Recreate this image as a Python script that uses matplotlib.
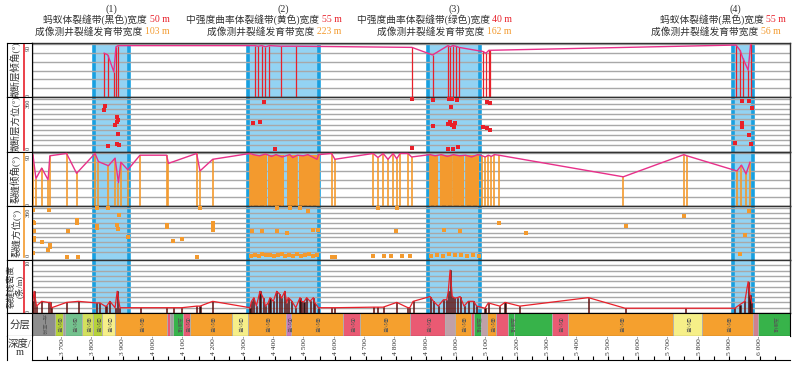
import matplotlib.pyplot as plt

plt.rcParams['font.family'] = ['Liberation Serif', 'Noto Sans CJK SC']

# ---- data (depth in m) ----
zone_top = [3805, 4312, 4906, 5912]
zone_bottom = [3920, 4547, 5078, 5978]
zone_no = ['(1)', '(2)', '(3)', '(4)']
zone_text = ['蚂蚁体裂缝带(黑色)宽度', '中强度曲率体裂缝带(黄色)宽度',
             '中强度曲率体裂缝带(绿色)宽度', '蚂蚁体裂缝带(黑色)宽度']
zone_width_ant = ['50 m', '55 m', '40 m', '55 m']
zone_width_img = ['103 m', '223 m', '162 m', '56 m']

# microfault dip
fault_depth = [3838, 3850, 3870, 3877, 3884, 4335, 4345, 4358, 4370, 4383, 4420, 4470,
               4853, 4921, 4972, 4980, 4988, 4998, 5008, 5087, 5097, 5107,
               5110, 5922, 5935, 5944, 5962, 5970]
fault_dip = [75, 72, 43, 86, 88, 88, 87, 88, 86, 88, 87, 87,
             85, 72, 88, 86, 88, 87, 85, 78, 75, 80,
             80, 89, 80, 67, 46, 90]

# microfault azimuth
fault_az_depth = [3842, 3838, 3880, 3882, 3880, 3874, 3885, 3852, 3881, 3888,
                  4330, 4352, 4365, 4400, 4853, 4921, 4975, 4985, 4982, 5002, 4921,
                  4972, 4978, 4985, 4992, 4995, 5101, 5110, 5087, 5101, 5110,
                  4853, 4972, 4988, 5005, 5941, 5965, 5974, 5941, 5941, 5966, 5918, 5970]
fault_az = [311, 282, 233, 212, 198, 176, 113, 30, 40, 35,
            190, 195, 340, 10, 358, 353, 360, 360, 306, 353, 169,
            184, 198, 176, 162, 190, 341, 332, 162, 155, 141,
            12, 7, 7, 19, 348, 346, 294, 191, 162, 106, 47, 42]

# fracture dip (single traces) and dense fracture intervals
frac_depth = [3600, 3603, 3613, 3632, 3653, 3659, 3714, 3747, 3808, 3819, 3852, 3874,
              3885, 3893, 3916, 3956, 4044, 4050, 4143, 4154, 4196, 4319, 4330, 4350,
              4370, 4390, 4405, 4425, 4450, 4460, 4475, 4495, 4510, 4525, 4540, 4545,
              4588, 4599, 4725, 4741, 4758, 4774, 4791, 4803, 4814, 4840, 4852, 4913,
              4930, 4950, 4970, 4990, 5010, 5030, 5050, 5070, 5085, 5095, 5105, 5115,
              5125, 5140, 5550, 5750, 5760, 5925, 5940, 5955, 5968]
frac_dip = [90, 88, 47, 65, 45, 86, 90, 56, 90, 76, 69, 82,
            40, 75, 62, 87, 87, 73, 90, 60, 80, 90, 88, 86,
            89, 85, 88, 84, 88, 83, 87, 86, 88, 84, 80, 88,
            90, 80, 90, 83, 90, 80, 90, 81, 90, 90, 84, 88,
            86, 88, 85, 88, 86, 87, 84, 88, 86, 84, 87, 85,
            88, 87, 50, 88, 86, 60, 70, 55, 75]
dense_start = [4319, 4380, 4440, 4482, 4913, 4945, 4990, 5030]
dense_end = [4375, 4432, 4475, 4545, 4940, 4985, 5025, 5075]
dense_dip = [88, 88, 88, 88, 87, 87, 87, 87]

# fracture azimuth
frac_az_depth = [3604, 3657, 3604, 3607, 3747, 3747, 3720, 3607, 3607, 3607, 3632, 3659,
                 3659, 3654, 3604, 3714, 3753, 3813, 3852, 3888, 3813, 3813, 3879, 3885,
                 3915, 4044, 4044, 4154, 4066, 4094, 4196, 4196, 4196, 4143,
                 4325, 4357, 4407, 4440, 4527, 4543, 4408, 4451, 4484, 4511,
                 4322, 4335, 4348, 4360, 4372, 4385, 4398, 4410, 4423, 4436, 4449, 4462,
                 4475, 4488, 4500, 4513, 4526, 4539,
                 4588, 4599, 4742, 4803, 4800, 4725, 4760, 4785, 4820, 4846,
                 4915, 4935, 4955, 4975, 4995, 5015, 5035, 5055, 5075, 4960, 5010, 5140, 5230,
                 5560, 5750, 5935, 5950, 5965]
frac_az = [345, 345, 259, 250, 272, 250, 193, 193, 137, 125, 112, 88,
           76, 51, 27, 3, 3, 358, 360, 309, 228, 211, 235, 204,
           149, 235, 223, 358, 120, 132, 248, 228, 198, 3,
           193, 193, 193, 179, 198, 198, 360, 360, 360, 340,
           10, 15, 8, 20, 12, 18, 6, 14, 22, 9, 16, 11,
           19, 7, 13, 21, 10, 15,
           3, 3, 360, 358, 193, 6, 4, 8, 5, 7,
           10, 15, 8, 20, 12, 18, 6, 14, 9, 200, 190, 250, 180,
           230, 300, 20, 160, 340]

# fracture linear density (per m)
dens_depth = [3601, 3603, 3607, 3615, 3632, 3653, 3660, 3665, 3714, 3753, 3813, 3824,
              3841, 3846, 3857, 3874, 3881, 3890, 3959, 4044, 4066, 4094, 4143, 4154,
              4196, 4319, 4324, 4332, 4340, 4352, 4363, 4370, 4379, 4385, 4396, 4407,
              4416, 4423, 4434, 4440, 4445, 4456, 4470, 4484, 4489, 4497, 4506, 4517,
              4528, 4533, 4545, 4588, 4599, 4725, 4740, 4758, 4803, 4840, 4846, 4857,
              4913, 4924, 4940, 4957, 4968, 4973, 4979, 4986, 4995, 5003, 5012, 5025,
              5039, 5056, 5067, 5094, 5105, 5143, 5160, 5209, 5435, 5556, 5754, 5918,
              5935, 5951, 5962, 5968, 5974]
dens = [2.2, 2.2, 4.1, 1.3, 2.2, 2.0, 2.0, 1.0, 2.0, 2.2, 1.9, 1.9,
        1.3, 1.3, 2.2, 1.0, 4.1, 1.0, 1.0, 1.0, 1.0, 1.0, 1.3, 1.3,
        2.2, 1.0, 2.2, 2.9, 1.3, 4.1, 2.8, 1.3, 1.9, 2.9, 2.2, 4.1,
        3.6, 2.8, 4.1, 1.9, 2.9, 2.3, 1.0, 2.9, 2.2, 2.1, 2.9, 2.2,
        2.9, 1.9, 1.0, 1.0, 1.0, 1.1, 1.1, 1.1, 2.0, 1.0, 1.0, 2.2,
        3.1, 2.2, 1.3, 2.5, 2.5, 4.1, 8.1, 3.1, 2.8, 2.9, 3.1, 1.3,
        2.2, 2.2, 1.3, 0.9, 1.9, 1.3, 2.0, 1.3, 2.9, 0.9, 0.9, 0.9,
        1.6, 2.2, 5.9, 3.4, 1.9]

# layering
layer_start = [3600, 3676, 3702, 3709, 3765, 3801, 3831, 3874, 4045, 4055, 4065, 4097,
               4122, 4260, 4312, 4437, 4453, 4627, 4682, 4847, 4962, 4995, 5048, 5058,
               5081, 5100, 5130, 5171, 5190, 5315, 5368, 5713, 5809, 5978, 5995]
layer_end = [3676, 3702, 3709, 3765, 3801, 3831, 3874, 4045, 4055, 4065, 4097, 4122,
             4260, 4312, 4437, 4453, 4627, 4682, 4847, 4962, 4995, 5048, 5058, 5081,
             5100, 5130, 5171, 5190, 5315, 5368, 5713, 5809, 5978, 5995, 6100]
layer_color = ['#8e8e8e', '#b6d23a', '#a0a0a0', '#74c28e', '#d3e05c', '#b6d23a', '#f6ef88',
               '#f5a02e', '#ea5a73', '#a0a0a0', '#37b34a', '#ea5a73', '#f5a02e', '#f6ef88',
               '#f5a02e', '#c67ab8', '#f5a02e', '#ea5a73', '#f5a02e', '#ea5a73', '#c0a0a8',
               '#f5a02e', '#ea5a73', '#37b34a', '#c0a0a8', '#f5a02e', '#ea5a73', '#37b34a',
               '#37b34a', '#ea5a73', '#f5a02e', '#f6ef88', '#f5a02e', '#d08090', '#37b34a']
layer_label = ['龙一亚段', '⑥小层', '', '⑤小层', '④小层', '③小层', '②小层',
               '④小层', '', '', '五峰组', '①小层', '④小层', '③小层',
               '④小层', '①小层', '④小层', '①小层', '④小层', '①小层', '',
               '④小层', '', '五峰组', '', '④小层', '', '五峰组',
               '', '①小层', '④小层', '③小层', '④小层', '', '五峰组']

depth_ticks = list(range(3700, 6001, 100))

# ---- layout ----
W, H = 797, 370
fig = plt.figure(figsize=(W / 100, H / 100), dpi=100)
X0, X1, XL = 32, 790, 7
D0, D1 = 3600, 6100
rows = [(43, 97), (97, 152), (152, 206), (206, 260), (260, 313), (313, 336), (336, 360)]


def px_axes(x0, y0, x1, y1):
    return fig.add_axes([x0 / W, 1 - y1 / H, (x1 - x0) / W, (y1 - y0) / H])


def d2px(d):
    return X0 + (d - D0) / (D1 - D0) * (X1 - X0)


ylims = [(0, 92.5), (-14, 374), (0, 92.5), (-22, 375), (0, 10)]
grids = [range(15, 91, 15), range(36, 361, 36), range(15, 91, 15), range(36, 361, 36), range(1, 10)]
names = ['微断层倾角(°)', '微断层方位(°)', '裂缝倾角(°)', '裂缝方位(°)', '裂缝线密度\n(条/m)']
name_size = [6.8, 6.8, 6.8, 6.8, 6.2]
scale_col = ['#e8202a', '#e8202a', '#f39a2e', '#f39a2e', '#e8202a']
scale_top = ['90', '360', '90', '360', '10']
scale_top_v = [90, 360, 90, 360, 10]

axes = []
for i in range(5):
    y0, y1 = rows[i]
    ax = px_axes(X0, y0, X1, y1)
    ax.set_xlim(D0, D1)
    ax.set_ylim(*ylims[i])
    ax.set_xticks([])
    ax.set_yticks([])
    for g in grids[i]:
        ax.axhline(g, color='#a8a8a8', lw=1.0, zorder=1)
    for t, b in zip(zone_top, zone_bottom):
        ax.axvspan(t, b, facecolor='#93d3f3', edgecolor='none', zorder=0.5)
        ax.axvline(t, color='#18a0e0', lw=2.6, zorder=0.6)
        ax.axvline(b, color='#18a0e0', lw=2.6, zorder=0.6)
    for s in ax.spines.values():
        s.set_color('#333333')
        s.set_linewidth(1.0)
    axes.append(ax)

    lab = px_axes(XL, y0, X0, y1)
    lab.set_xlim(0, 1)
    lab.set_ylim(*ylims[i])
    lab.set_xticks([])
    lab.set_yticks([])
    lab.text(0.34, (ylims[i][0] + ylims[i][1]) / 2, names[i], rotation=90, ha='center', va='center',
             fontsize=name_size[i], color='#333333', linespacing=1.0)
    lab.plot([0.66, 0.66], [0, scale_top_v[i]], color=scale_col[i], lw=1.2)
    lab.text(0.84, 0, '0', rotation=90, ha='center', va='bottom', fontsize=4.5, color='#333333')
    lab.text(0.84, scale_top_v[i], scale_top[i], rotation=90, ha='center', va='top', fontsize=4.5,
             color='#333333')

ax1, ax2, ax3, ax4, ax5 = axes

# panel 1 : microfault dip
ax1.vlines(fault_depth, 0, fault_dip, color='#e8202a', lw=0.9, zorder=3)
ax1.plot(fault_depth, fault_dip, color='#e8308a', lw=1.0, zorder=4)

# panel 2 : microfault azimuth
ax2.scatter(fault_az_depth, fault_az, s=6, marker='s', color='#e8202a', zorder=3, lw=0)

# panel 3 : fracture dip
ax3.bar(dense_start, dense_dip, width=[e - s for s, e in zip(dense_start, dense_end)], align='edge',
        color='#f39a2e', lw=0, zorder=2)
ax3.vlines(frac_depth, 0, frac_dip, color='#f39a2e', lw=1.2, zorder=3)
ax3.plot(frac_depth, frac_dip, color='#e8308a', lw=1.0, zorder=4)

# panel 4 : fracture azimuth
ax4.scatter(frac_az_depth, frac_az, s=6, marker='s', color='#f39a2e', zorder=3, lw=0)

# panel 5 : fracture density
ax5.bar(dens_depth, dens, width=3.5, color='#231815', edgecolor='#7a1010', lw=0.4, zorder=3)
ax5.plot(dens_depth, dens, color='#e8202a', lw=0.9, zorder=4)

# layering
axl = px_axes(X0, rows[5][0], X1, rows[5][1])
axl.set_xlim(D0, D1)
axl.set_ylim(0, 1)
axl.set_xticks([])
axl.set_yticks([])
axl.bar(layer_start, 1, width=[e - s for s, e in zip(layer_start, layer_end)], align='edge',
        color=layer_color, edgecolor='#b0b0b0', lw=0.6)
for s, e, t in zip(layer_start, layer_end, layer_label):
    if t:
        axl.text((s + e) / 2, 0.5, t, rotation=270, ha='center', va='center', fontsize=3.8,
                 color='#555555', family=['Noto Sans CJK SC', 'DejaVu Sans'])

# depth
axd = px_axes(X0, rows[6][0], X1, rows[6][1])
axd.set_xlim(D0, D1)
axd.set_ylim(0, 1)
axd.set_yticks([])
axd.set_xticks(depth_ticks)
axd.set_xticklabels([])
axd.set_xticks(range(3650, 6100, 100), minor=True)
axd.tick_params(axis='x', which='both', direction='in', length=3, width=0.8)
for s in ['top', 'right']:
    axd.spines[s].set_visible(False)
for t in depth_ticks:
    axd.text(t, 0.22, f'{t // 1000} {t % 1000:03d}-', rotation=90, ha='center', va='bottom',
             fontsize=5.4, color='#333333')

for (y0, y1), name in zip(rows[5:], ['分层', '深度/\nm']):
    lab = px_axes(XL, y0, X0, y1)
    lab.set_xticks([])
    lab.set_yticks([])
    lab.text(0.5, 0.5, name, ha='center', va='center', fontsize=7.5, color='#333333', linespacing=0.9)
    if name != '分层':
        for s in ['top', 'right', 'bottom']:
            lab.spines[s].set_visible(False)

# zone titles
for t, b, no, txt, wa, wi in zip(zone_top, zone_bottom, zone_no, zone_text, zone_width_ant, zone_width_img):
    mid = d2px((t + b) / 2)
    cx = min(mid, X1 - 62)
    fig.text(min(mid, X1 - 55) / W, 1 - 9 / H, no, ha='center', va='center', fontsize=7.2, color='#333333')
    fig.text((cx + 38) / W, 1 - 20 / H, txt + ' ', ha='right', va='center', fontsize=7.0, color='#333333')
    fig.text((cx + 38) / W, 1 - 20 / H, wa, ha='left', va='center', fontsize=7.0, color='#e8202a')
    fig.text((cx + 33) / W, 1 - 32 / H, '成像测井裂缝发育带宽度 ', ha='right', va='center', fontsize=7.0,
             color='#333333')
    fig.text((cx + 33) / W, 1 - 32 / H, wi, ha='left', va='center', fontsize=7.0, color='#f39a2e')

fig.savefig('out.png', dpi=100)
